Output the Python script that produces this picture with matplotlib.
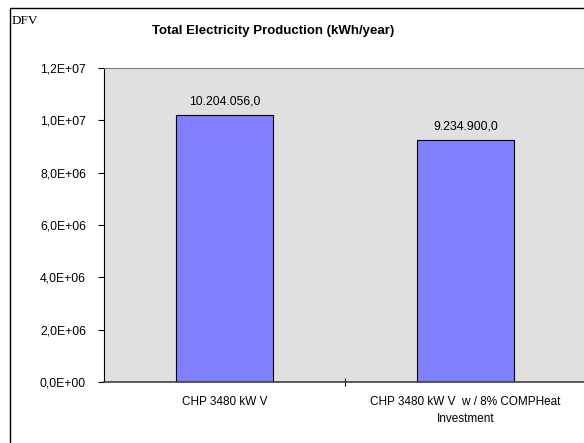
import matplotlib.pyplot as plt
from matplotlib.patches import Rectangle
from matplotlib.ticker import FuncFormatter

categories = ["CHP 3480 kW V", "CHP 3480 kW V  w / 8% COMPHeat\nInvestment"]
values = [10204056.0, 9234900.0]
value_labels = ["10.204.056,0", "9.234.900,0"]
yticks = [0, 2e6, 4e6, 6e6, 8e6, 10e6, 12e6]

FONT = "Liberation Sans"


def sci_comma(v, pos):
    s = f"{v:.1E}"
    mant, exp = s.split("E")
    sign = exp[0]
    return f"{mant.replace('.', ',')}E{sign}{int(exp[1:]):02d}"


fig = plt.figure(figsize=(5.84, 4.43), dpi=100)
fig.patch.set_facecolor("white")

# outer chart frame (cut off on right/bottom)
fig.patches.append(Rectangle((10 / 584, -0.05), 1.2, 1 - 8 / 443 + 0.05,
                             transform=fig.transFigure, fill=False,
                             edgecolor="black", linewidth=1.0))

ax = fig.add_axes([104 / 584, 1 - 382 / 443, 482 / 584, (382 - 68) / 443])
ax.set_facecolor("#e0e0e0")

x = list(range(len(categories)))
ax.bar(x, values, width=0.4, color="#8080ff", edgecolor="black", linewidth=0.8)
for xi, v, lab in zip(x, values, value_labels):
    ax.text(xi, v + 3.0e5, lab, ha="center", va="bottom",
            fontsize=8.8, family=FONT, color="black")

ax.set_xlim(-0.5, 1.5)
ax.set_ylim(0, 1.2e7)
ax.set_yticks(yticks)
ax.yaxis.set_major_formatter(FuncFormatter(sci_comma))
ax.set_xticks([0.5])
ax.set_xticklabels([""])
ax.tick_params(axis="y", direction="out", length=4, width=0.8, labelsize=8.8, pad=9)
ax.tick_params(axis="x", direction="inout", length=6, width=0.8)
for lab in ax.get_yticklabels():
    lab.set_family(FONT)

for xi, c in zip(x, categories):
    ax.text(xi, -0.045, c, transform=ax.get_xaxis_transform(), ha="center",
            va="top", fontsize=8.5, family=FONT, linespacing=1.5)

ax.spines["top"].set_color("#808080")
ax.spines["right"].set_visible(False)
ax.spines["left"].set_color("black")
ax.spines["bottom"].set_color("#404040")
ax.spines["bottom"].set_linewidth(1.2)

fig.text(273 / 584, 1 - 31 / 443, "Total Electricity Production (kWh/year)",
         ha="center", va="center", fontsize=9.5, weight="bold", family=FONT)
fig.text(12 / 584, 1 - 21 / 443, "DFV", ha="left", va="center",
         fontsize=9.5, family="Liberation Serif")

fig.savefig("out.png", dpi=100)
